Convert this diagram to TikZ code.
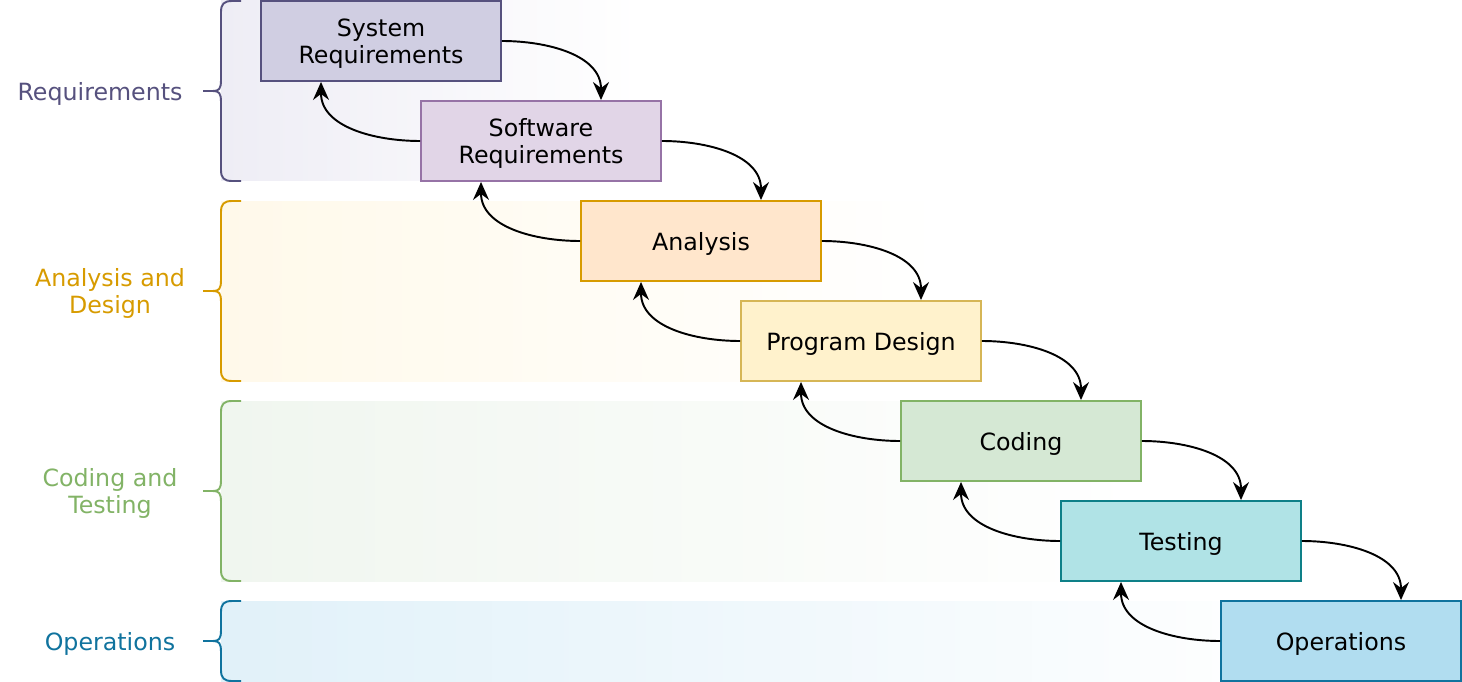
\documentclass[tikz,border=0pt]{standalone}
\usepackage{fontspec}
\setmainfont{DejaVu Sans}
\usetikzlibrary{arrows.meta}
\definecolor{sysfill}{HTML}{D0CEE2}\definecolor{sysline}{HTML}{56517E}
\definecolor{softfill}{HTML}{E1D5E7}\definecolor{softline}{HTML}{9673A6}
\definecolor{anafill}{HTML}{FFE6CC}\definecolor{analine}{HTML}{D79B00}
\definecolor{progfill}{HTML}{FFF2CC}\definecolor{progline}{HTML}{D6B656}
\definecolor{codefill}{HTML}{D5E8D4}\definecolor{codeline}{HTML}{82B366}
\definecolor{testfill}{HTML}{B0E3E6}\definecolor{testline}{HTML}{0E8088}
\definecolor{opsfill}{HTML}{B1DDF0}\definecolor{opsline}{HTML}{10739E}
\definecolor{reqband}{HTML}{EEEDF5}
\definecolor{anaband}{HTML}{FFF9EA}
\definecolor{codeband}{HTML}{F0F6EF}
\definecolor{opsband}{HTML}{E1F1F9}
\def\phasebrace[#1](#2:#3){\draw[#1] (241,#2) -- (232,#2) .. controls (224,#2) and (221,{#2+3}) .. (221,{#2+11}) -- (221,{(#2+#3)/2-11}) .. controls (221,{(#2+#3)/2-2}) and (219,{(#2+#3)/2}) .. (213,{(#2+#3)/2}) -- (203,{(#2+#3)/2}) (213,{(#2+#3)/2}) .. controls (219,{(#2+#3)/2}) and (221,{(#2+#3)/2+2}) .. (221,{(#2+#3)/2+11}) -- (221,{#3-11}) .. controls (221,{#3-3}) and (224,#3) .. (232,#3) -- (241,#3);}

\begin{document}
\begin{tikzpicture}[x=0.02cm, y=-0.02cm,
	phase/.style={draw, line width=1.1pt, minimum width=4.8cm, minimum height=1.6cm, inner sep=0pt, align=center, text depth=0pt, font=\fontsize{13.5}{15.3}\selectfont},
	flow/.style={-{Stealth[length=0.36cm, width=0.32cm, inset=0.12cm]}, line width=1.1pt},
	tag/.style={align=center, text depth=0pt, font=\fontsize{13.5}{15.3}\selectfont}]
			%%%%% START %%%%%
			\useasboundingbox (0,0) rectangle (1462,682);
			
			\shade[left color=reqband, right color=white] (221,1) rectangle (641,181);
			\shade[left color=anaband, right color=white] (221,201) rectangle (941,381);
			\shade[left color=codeband, right color=white] (221,401) rectangle (1141,581);
			\shade[left color=opsband, right color=white] (221,601) rectangle (1301,681);
			
			\phasebrace[line width=1.1pt, color=sysline](1:181);
			\phasebrace[line width=1.1pt, color=analine](201:381);
			\phasebrace[line width=1.1pt, color=codeline](401:581);
			\phasebrace[line width=1.1pt, color=opsline](601:681);
			
			\node[tag, text=sysline] (reqtag) at (100,91) {Requirements};
			\node[tag, text=analine] (anatag) at (110,291) {Analysis and\\Design};
			\node[tag, text=codeline] (codetag) at (110,491) {Coding and\\Testing};
			\node[tag, text=opsline] (opstag) at (110,641) {Operations};
			
			\node[phase, fill=sysfill, draw=sysline] (sysreq) at (381,41) {System\\Requirements};
			\node[phase, fill=softfill, draw=softline] (softreq) at (541,141) {Software\\Requirements};
			\node[phase, fill=anafill, draw=analine] (analysis) at (701,241) {Analysis};
			\node[phase, fill=progfill, draw=progline] (progdesign) at (861,341) {Program Design};
			\node[phase, fill=codefill, draw=codeline] (coding) at (1021,441) {Coding};
			\node[phase, fill=testfill, draw=testline] (testing) at (1181,541) {Testing};
			\node[phase, fill=opsfill, draw=opsline] (operations) at (1341,641) {Operations};
			
			\draw[flow] (sysreq.east) to[out=0, in=90] ([xshift=1.2cm]softreq.north);
			\draw[flow] (softreq.east) to[out=0, in=90] ([xshift=1.2cm]analysis.north);
			\draw[flow] (analysis.east) to[out=0, in=90] ([xshift=1.2cm]progdesign.north);
			\draw[flow] (progdesign.east) to[out=0, in=90] ([xshift=1.2cm]coding.north);
			\draw[flow] (coding.east) to[out=0, in=90] ([xshift=1.2cm]testing.north);
			\draw[flow] (testing.east) to[out=0, in=90] ([xshift=1.2cm]operations.north);
			
			\draw[flow] (softreq.west) to[out=180, in=-90] ([xshift=-1.2cm]sysreq.south);
			\draw[flow] (analysis.west) to[out=180, in=-90] ([xshift=-1.2cm]softreq.south);
			\draw[flow] (progdesign.west) to[out=180, in=-90] ([xshift=-1.2cm]analysis.south);
			\draw[flow] (coding.west) to[out=180, in=-90] ([xshift=-1.2cm]progdesign.south);
			\draw[flow] (testing.west) to[out=180, in=-90] ([xshift=-1.2cm]coding.south);
			\draw[flow] (operations.west) to[out=180, in=-90] ([xshift=-1.2cm]testing.south);
			
			%%%%% END %%%%%
		\end{tikzpicture}
\end{document}
